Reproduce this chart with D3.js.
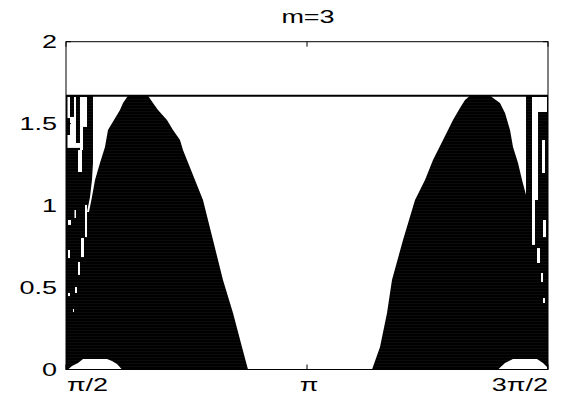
<!DOCTYPE html>
<html>
<head>
<meta charset="utf-8">
<script src="https://cdn.jsdelivr.net/npm/d3@7"></script>
<style>
  html, body { margin: 0; padding: 0; background: #fff; }
  svg { display: block; }
  text { font-family: Arial, "Liberation Sans", Helvetica, sans-serif; fill: #000; }
</style>
</head>
<body>
<svg id="chart" width="579" height="401"></svg>
<script>
// ---- data (x in multiples of π) ----
const title = "m=3";
const xTicks = [0.5, 1, 1.5];
const xTickLabels = ["π/2", "π", "3π/2"];
const yTicks = [0, 0.5, 1, 1.5, 2];
const yTickLabels = ["0", "0.5", "1", "1.5", "2"];
const ceiling = 1.67;

// upper boundary of the stable region
const bodyX = [0.5, 0.6701, 0.6805, 0.6909, 0.7095, 0.7220, 0.7365, 0.7427, 0.7510, 0.7676, 0.7842, 0.8050, 0.8257, 0.8465, 0.8651, 0.8776,
               1.1349, 1.1515, 1.1660, 1.1763, 1.1992, 1.2241, 1.2448, 1.2614, 1.2822, 1.3029, 1.3174, 1.3278, 1.3382, 1.5];
const bodyY = [1.67, 1.67, 1.626, 1.583, 1.522, 1.461, 1.400, 1.339, 1.278, 1.156, 1.034, 0.790, 0.546, 0.345, 0.137, 0,
               0, 0.137, 0.345, 0.546, 0.790, 1.034, 1.156, 1.278, 1.400, 1.522, 1.596, 1.644, 1.67, 1.67];

// unstable wedges next to the outer flanks of the two lobes
const leftWedgeX = [0.5560, 0.6286, 0.6183, 0.6120, 0.5871, 0.5809, 0.5705, 0.5602, 0.5539, 0.5477, 0.5436, 0.5498, 0.5539, 0.5560];
const leftWedgeY = [1.67, 1.67, 1.626, 1.583, 1.461, 1.358, 1.260, 1.156, 1.052, 0.961, 0.961, 1.052, 1.156, 1.260];
const rightWedgeX = [1.3797, 1.4004, 1.4108, 1.4212, 1.4274, 1.4378, 1.4461, 1.4544, 1.4544];
const rightWedgeY = [1.67, 1.626, 1.565, 1.461, 1.358, 1.260, 1.156, 1.065, 1.67];

// unstable strips near the ends: [x0, x1, y0, y1]
const leftGaps = [
  [0.5031, 0.5083, 1.534, 1.663],
  [0.5031, 0.5083, 1.352, 1.431],
  [0.5083, 0.5166, 1.352, 1.541],
  [0.5166, 0.5207, 1.352, 1.663],
  [0.5207, 0.5290, 1.352, 1.382],
  [0.5290, 0.5436, 1.480, 1.663],
  [0.5290, 0.5353, 1.339, 1.480],
  [0.5249, 0.5332, 1.205, 1.339],
  [0.5394, 0.5436, 0.808, 1.004],
  [0.5311, 0.5373, 0.686, 0.802],
  [0.5176, 0.5207, 0.924, 0.973],
  [0.5041, 0.5104, 0.882, 0.912],
  [0.5041, 0.5083, 0.680, 0.729],
  [0.5249, 0.5290, 0.577, 0.656],
  [0.5187, 0.5228, 0.467, 0.503],
  [0.5041, 0.5083, 0.448, 0.467],
  [0.5145, 0.5166, 0.351, 0.369]
];
const rightGaps = [
  [1.4668, 1.4793, 1.034, 1.663],
  [1.4793, 1.4979, 1.571, 1.663],
  [1.4876, 1.4938, 1.199, 1.400],
  [1.4668, 1.4730, 0.760, 1.034],
  [1.4896, 1.4959, 0.808, 0.912],
  [1.4772, 1.4834, 0.650, 0.741],
  [1.4855, 1.4896, 0.534, 0.589],
  [1.4896, 1.4938, 0.406, 0.436]
];

// small unstable pockets along y = 0
const leftBumpX = [0.5041, 0.5124, 0.5249, 0.5353, 0.5851, 0.5954, 0.6058, 0.6162];
const leftBumpY = [0, 0.021, 0.040, 0.064, 0.064, 0.052, 0.034, 0];
const rightBumpX = [1.3963, 1.4108, 1.4274, 1.4772, 1.4896, 1.4979, 1.499];
const rightBumpY = [0, 0.040, 0.064, 0.064, 0.040, 0.015, 0];

// ---- layout ----
const plot = { left: 66, right: 548, top: 41.7, bottom: 369.5 };
const textStretch = 1.5;
const fontSize = 18;

const svg = d3.select("#chart");
const x = d3.scaleLinear().domain([0.5, 1.5]).range([plot.left, plot.right]);
const y = d3.scaleLinear().domain([0, 2]).range([plot.bottom, plot.top]);

// faint dotted-grid texture of the filled region
const defs = svg.append("defs");
const pat = defs.append("pattern")
  .attr("id", "dots").attr("patternUnits", "userSpaceOnUse")
  .attr("width", 3).attr("height", 3);
pat.append("rect").attr("width", 3).attr("height", 3).attr("fill", "#000");
pat.append("rect").attr("width", 3).attr("height", 0.5).attr("fill", "#161616");

const zip = (xs, ys) => xs.map((v, i) => [v, ys[i]]);

// filled region under the upper boundary
const area = d3.area().x(d => x(d[0])).y0(y(0)).y1(d => y(d[1]));
svg.append("path")
  .attr("d", area(zip(bodyX, bodyY)))
  .attr("fill", "url(#dots)");

// carve out the unstable parts
const poly = d3.line().x(d => x(d[0])).y(d => y(d[1]));
[[leftWedgeX, leftWedgeY], [rightWedgeX, rightWedgeY], [leftBumpX, leftBumpY], [rightBumpX, rightBumpY]]
  .forEach(([xs, ys]) => {
    svg.append("path").attr("d", poly(zip(xs, ys)) + "Z").attr("fill", "#fff");
  });

svg.append("g").selectAll("rect")
  .data(leftGaps.concat(rightGaps))
  .join("rect")
  .attr("x", d => x(d[0]))
  .attr("width", d => x(d[1]) - x(d[0]))
  .attr("y", d => y(d[3]))
  .attr("height", d => y(d[2]) - y(d[3]))
  .attr("fill", "#fff");

// bound of the stability region
svg.append("line")
  .attr("x1", x(0.5)).attr("x2", x(1.5))
  .attr("y1", y(ceiling)).attr("y2", y(ceiling))
  .attr("stroke", "#000").attr("stroke-width", 2);

// axes box with inward ticks
svg.append("rect")
  .attr("x", plot.left).attr("y", plot.top)
  .attr("width", plot.right - plot.left).attr("height", plot.bottom - plot.top)
  .attr("fill", "none").attr("stroke", "#000").attr("stroke-width", 1);

const tickLen = 5;
const ticks = svg.append("g").attr("stroke", "#000").attr("stroke-width", 1);
yTicks.forEach(v => {
  ticks.append("line").attr("x1", plot.left).attr("x2", plot.left + tickLen).attr("y1", y(v)).attr("y2", y(v));
  ticks.append("line").attr("x1", plot.right).attr("x2", plot.right - tickLen).attr("y1", y(v)).attr("y2", y(v));
});
xTicks.forEach(v => {
  ticks.append("line").attr("x1", x(v)).attr("x2", x(v)).attr("y1", plot.bottom).attr("y2", plot.bottom - tickLen);
  ticks.append("line").attr("x1", x(v)).attr("x2", x(v)).attr("y1", plot.top).attr("y2", plot.top + tickLen);
});

function label(str, px, py, anchor) {
  svg.append("text")
    .attr("transform", `translate(${px},${py}) scale(${textStretch},1)`)
    .attr("text-anchor", anchor)
    .attr("font-size", fontSize)
    .text(str);
}

yTicks.forEach((v, i) => label(yTickLabels[i], plot.left - 9, y(v) + 6.5, "end"));

const xAnchors = ["start", "middle", "end"];
const xShift = [1, 2, 0];
xTicks.forEach((v, i) => label(xTickLabels[i], x(v) + xShift[i], 391, xAnchors[i]));

label(title, (plot.left + plot.right) / 2 + 1, 23, "middle");
</script>
</body>
</html>
